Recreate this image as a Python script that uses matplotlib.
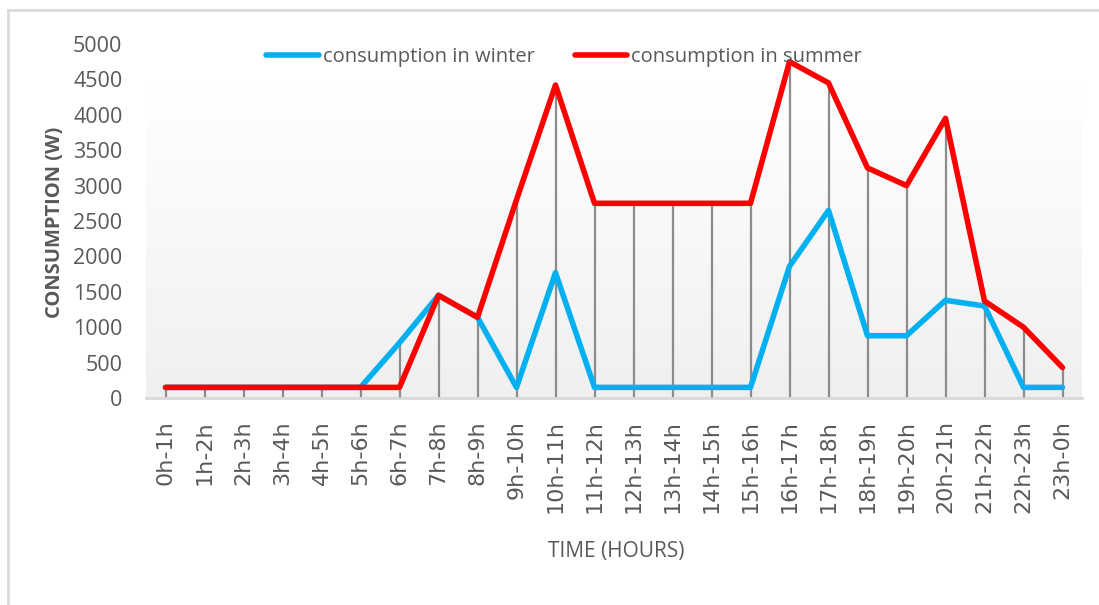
import numpy as np
import matplotlib
matplotlib.use('Agg')
import matplotlib.pyplot as plt
from matplotlib.lines import Line2D

plt.rcParams['font.family'] = ['Open Sans', 'DejaVu Sans']

# ---- data ----
hours = ['0h-1h', '1h-2h', '2h-3h', '3h-4h', '4h-5h', '5h-6h', '6h-7h', '7h-8h',
         '8h-9h', '9h-10h', '10h-11h', '11h-12h', '12h-13h', '13h-14h', '14h-15h',
         '15h-16h', '16h-17h', '17h-18h', '18h-19h', '19h-20h', '20h-21h',
         '21h-22h', '22h-23h', '23h-0h']
winter = [150, 150, 150, 150, 150, 150, 780, 1450, 1140, 150, 1770, 150,
          150, 150, 150, 150, 1860, 2650, 880, 880, 1380, 1300, 150, 150]
summer = [150, 150, 150, 150, 150, 150, 150, 1450, 1140, 2800, 4420, 2750,
          2750, 2750, 2750, 2750, 4750, 4450, 3250, 3000, 3950, 1370, 1000, 430]
yticks = [0, 500, 1000, 1500, 2000, 2500, 3000, 3500, 4000, 4500, 5000]

TXT = '#595959'
x = np.arange(len(hours))

fig = plt.figure(figsize=(10.99, 6.05), dpi=100)
ax = fig.add_axes([146/1099, 1 - 398/605, (1082 - 146)/1099, (398 - 44)/605])

# plot area background: white -> light gray gradient
grad = np.linspace(1.0, 0.94, 256).reshape(-1, 1)
ax.imshow(np.dstack([grad, grad, grad]), aspect='auto', transform=ax.transAxes,
          extent=(0, 1, 0, 0.884), zorder=0)

# drop lines (Excel style) from the higher series down to the axis
top = np.maximum(winter, summer)
ax.vlines(x, 0, top, color='#8c8c8c', lw=1.6, zorder=1)

ax.plot(x, winter, color='#00b0f0', lw=4, solid_capstyle='round', zorder=3)
ax.plot(x, summer, color='#ff0000', lw=4, solid_capstyle='round', zorder=4)

ax.set_xlim(-0.5, len(hours) - 0.5)
ax.set_ylim(0, 5000)
ax.set_xticks(x)
ax.set_xticklabels(hours, rotation=90, fontsize=16, color=TXT, va='top',
                   family=['DejaVu Sans'])
ax.set_yticks(yticks)
ax.set_yticklabels([str(v) for v in yticks], fontsize=15.5, color=TXT)
ax.tick_params(axis='both', length=0)
ax.tick_params(axis='x', pad=16)
ax.tick_params(axis='y', pad=17)

for s in ['top', 'right', 'left']:
    ax.spines[s].set_visible(False)
ax.spines['bottom'].set_color('#d9d9d9')
ax.spines['bottom'].set_linewidth(2)

fig.text(55/1099, 1 - 222/605, 'CONSUMPTION (W)', rotation=90, ha='center', va='center',
         fontsize=14.5, fontweight='bold', color=TXT)
fig.text(616/1099, 1 - 551/605, 'TIME (HOURS)', ha='center', va='center',
         fontsize=15, color=TXT)

handles = [Line2D([], [], color='#00b0f0', lw=4, solid_capstyle='round'),
           Line2D([], [], color='#ff0000', lw=4, solid_capstyle='round')]
fig.legend(handles, ['consumption in winter', 'consumption in summer'],
           loc='center', bbox_to_anchor=(564/1099, 1 - 57/605), ncol=2, frameon=False,
           handlelength=2.6, handletextpad=0.2, columnspacing=2.0,
           prop={'size': 14.5}, labelcolor=TXT)

# outer chart frame (only top and left edges show)
fig.add_artist(Line2D([8/1099, 8/1099], [0, 1 - 10/605], transform=fig.transFigure,
                      color='#d9d9d9', lw=2))
fig.add_artist(Line2D([8/1099, 1], [1 - 10/605, 1 - 10/605], transform=fig.transFigure,
                      color='#d9d9d9', lw=2))

fig.savefig('out.png', dpi=100)
